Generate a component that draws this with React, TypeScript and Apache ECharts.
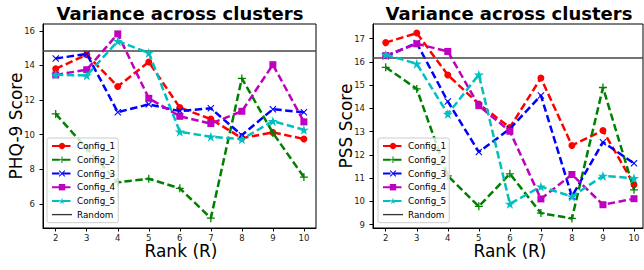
import React, { useEffect, useRef } from "react";
import * as echarts from "echarts";

// ---- data ----
const RANKS = [2, 3, 4, 5, 6, 7, 8, 9, 10];
const CONFIG_NAMES = ["Config_1", "Config_2", "Config_3", "Config_4", "Config_5"];

const PHQ_CONFIG_1 = [13.8, 14.62, 12.78, 14.2, 11.56, 10.9, 9.8, 10.13, 9.75];
const PHQ_CONFIG_2 = [11.2, 9.2, 7.25, 7.45, 6.9, 5.18, 13.25, 10.1, 7.55];
const PHQ_CONFIG_3 = [14.4, 14.66, 11.3, 11.75, 11.36, 11.52, 9.97, 11.47, 11.29];
const PHQ_CONFIG_4 = [13.45, 13.75, 15.82, 12.1, 11.06, 10.64, 11.35, 14.04, 10.74];
const PHQ_CONFIG_5 = [13.46, 13.42, 15.4, 14.72, 10.17, 9.88, 9.74, 10.78, 10.28];
const PHQ_RANDOM = 14.87;
const PHQ_TICKS = [6, 8, 10, 12, 14, 16];

const PSS_CONFIG_1 = [16.83, 17.24, 15.44, 14.19, 13.18, 15.31, 12.41, 13.05, 10.72];
const PSS_CONFIG_2 = [15.77, 14.84, 11.1, 9.79, 11.19, 9.5, 9.27, 14.9, 10.5];
const PSS_CONFIG_3 = [16.24, 16.81, 14.3, 12.13, 13.12, 14.56, 10.22, 12.55, 11.64];
const PSS_CONFIG_4 = [16.27, 16.78, 16.45, 14.12, 13.02, 10.11, 11.16, 9.86, 10.12];
const PSS_CONFIG_5 = [16.31, 15.92, 13.76, 15.45, 9.9, 10.64, 10.21, 11.1, 11.0];
const PSS_RANDOM = 16.2;
const PSS_TICKS = [9, 10, 11, 12, 13, 14, 15, 16, 17];

const TITLE = "Variance across clusters";
const X_NAME = "Rank (R)";
const Y_NAMES = ["PHQ-9 Score", "PSS Score"];

// ---- styling ----
const FONT = '"DejaVu Sans", "Liberation Sans", sans-serif';
const COLORS = ["#ff0000", "#008000", "#0000ff", "#bf00bf", "#00bfbf"];
const SYMBOLS = [
  "circle",
  "path://M0,4.2H10V5.8H0Z M4.2,0H5.8V10H4.2Z",
  "path://M0,1.1L1.1,0L5,3.9L8.9,0L10,1.1L6.1,5L10,8.9L8.9,10L5,6.1L1.1,10L0,8.9L3.9,5Z",
  "rect",
  "path://M5,0L6.117,3.463L9.755,3.455L6.807,5.587L7.939,9.045L5,6.9L2.061,9.045L3.193,5.587L0.245,3.455L3.883,3.463Z",
];
const SYMBOL_SIZES = [7, 8, 7, 7, 10];
const RANDOM_COLOR = "#333333";

export default function App() {
  const ref = useRef<HTMLDivElement>(null);

  useEffect(() => {
    if (!ref.current) return;
    const chart = echarts.init(ref.current, null, { renderer: "svg" });

    const panels = [
      {
        configs: [PHQ_CONFIG_1, PHQ_CONFIG_2, PHQ_CONFIG_3, PHQ_CONFIG_4, PHQ_CONFIG_5],
        random: PHQ_RANDOM,
        ticks: PHQ_TICKS,
        yMin: 4.61,
        yMax: 16.39,
        xMax: 10.39,
        grid: { left: 43, top: 24, width: 273, height: 204 },
        center: 180,
        yNameX: 16,
      },
      {
        configs: [PSS_CONFIG_1, PSS_CONFIG_2, PSS_CONFIG_3, PSS_CONFIG_4, PSS_CONFIG_5],
        random: PSS_RANDOM,
        ticks: PSS_TICKS,
        yMin: 8.86,
        yMax: 17.63,
        xMax: 10.29,
        grid: { left: 373, top: 24, width: 270, height: 204 },
        center: 509,
        yNameX: 346,
      },
    ];

    const axisLineStyle = { color: "#000", width: 1 };
    const labelStyle = { fontSize: 8.5, color: "#222", fontFamily: FONT };

    const series: any[] = [];
    panels.forEach((p, gi) => {
      p.configs.forEach((vals, i) => {
        series.push({
          type: "line",
          name: CONFIG_NAMES[i],
          xAxisIndex: gi,
          yAxisIndex: gi,
          data: RANKS.map((r, k) => [r, vals[k]]),
          symbol: SYMBOLS[i],
          symbolSize: SYMBOL_SIZES[i],
          showSymbol: true,
          color: COLORS[i],
          itemStyle: { color: COLORS[i] },
          lineStyle: { color: COLORS[i], width: 2.5, type: [7.5, 3.5] },
          z: 2 + i,
        });
      });
      series.push({
        type: "line",
        name: "Random",
        xAxisIndex: gi,
        yAxisIndex: gi,
        data: [],
        symbol: "none",
        color: RANDOM_COLOR,
        itemStyle: { color: RANDOM_COLOR },
        lineStyle: { color: RANDOM_COLOR, width: 1.5, type: "solid" },
        markLine: {
          silent: true,
          symbol: "none",
          label: { show: false },
          lineStyle: { color: "#444", width: 1.6, type: "solid" },
          data: [{ yAxis: p.random }],
        },
        z: 8,
      });
    });

    const legendCommon = {
      orient: "vertical",
      top: 138,
      itemWidth: 20,
      itemHeight: 8,
      itemGap: 2.7,
      padding: [2.6, 3, 2.6, 4],
      backgroundColor: "rgba(255,255,255,0.8)",
      borderColor: "#cccccc",
      borderWidth: 1,
      borderRadius: 2,
      selectedMode: false,
      symbolKeepAspect: true,
      textStyle: { fontSize: 8.8, fontFamily: FONT, color: "#000", lineHeight: 11 },
      data: [
        ...CONFIG_NAMES,
        {
          name: "Random",
          icon: "path://M0,0H20V1.3H0Z",
          itemStyle: { color: RANDOM_COLOR },
        },
      ],
      z: 20,
    };

    const graphics: any[] = [];
    panels.forEach((p) => {
      graphics.push({
        type: "text",
        x: p.center,
        y: 13.5,
        style: {
          text: TITLE,
          fontSize: 18,
          fontWeight: "bold",
          fontFamily: FONT,
          fill: "#000",
          align: "center",
          verticalAlign: "middle",
        },
      });
      graphics.push({
        type: "text",
        x: p.center + 1,
        y: 251,
        style: {
          text: X_NAME,
          fontSize: 17,
          fontFamily: FONT,
          fill: "#000",
          align: "center",
          verticalAlign: "middle",
        },
      });
    });
    panels.forEach((p, gi) => {
      graphics.push({
        type: "text",
        x: p.yNameX,
        y: 126,
        rotation: Math.PI / 2,
        style: {
          text: Y_NAMES[gi],
          fontSize: 17,
          fontFamily: FONT,
          fill: "#000",
          align: "center",
          verticalAlign: "middle",
        },
      });
    });

    chart.setOption({
      animation: false,
      backgroundColor: "#ffffff",
      grid: panels.map((p) => ({
        ...p.grid,
        show: true,
        borderColor: "#000",
        borderWidth: 1,
        backgroundColor: "transparent",
        containLabel: false,
      })),
      xAxis: panels.map((p, gi) => ({
        type: "value",
        gridIndex: gi,
        min: 1.59,
        max: p.xMax,
        axisLine: { show: true, onZero: false, lineStyle: axisLineStyle },
        axisTick: { show: true, length: 3.5, customValues: RANKS, lineStyle: axisLineStyle },
        axisLabel: { show: true, customValues: RANKS, margin: 5, ...labelStyle },
        splitLine: { show: false },
      })),
      yAxis: panels.map((p, gi) => ({
        type: "value",
        gridIndex: gi,
        min: p.yMin,
        max: p.yMax,
        axisLine: { show: true, onZero: false, lineStyle: axisLineStyle },
        axisTick: { show: true, length: 3.5, customValues: p.ticks, lineStyle: axisLineStyle },
        axisLabel: { show: true, customValues: p.ticks, margin: 8, ...labelStyle },
        splitLine: { show: false },
      })),
      legend: [
        { ...legendCommon, left: 47 },
        { ...legendCommon, left: 378 },
      ],
      series,
      graphic: graphics,
    });

    return () => {
      chart.dispose();
    };
  }, []);

  return (
    <div
      ref={ref}
      style={{ position: "fixed", left: 0, top: 0, width: 644, height: 270 }}
    />
  );
}
